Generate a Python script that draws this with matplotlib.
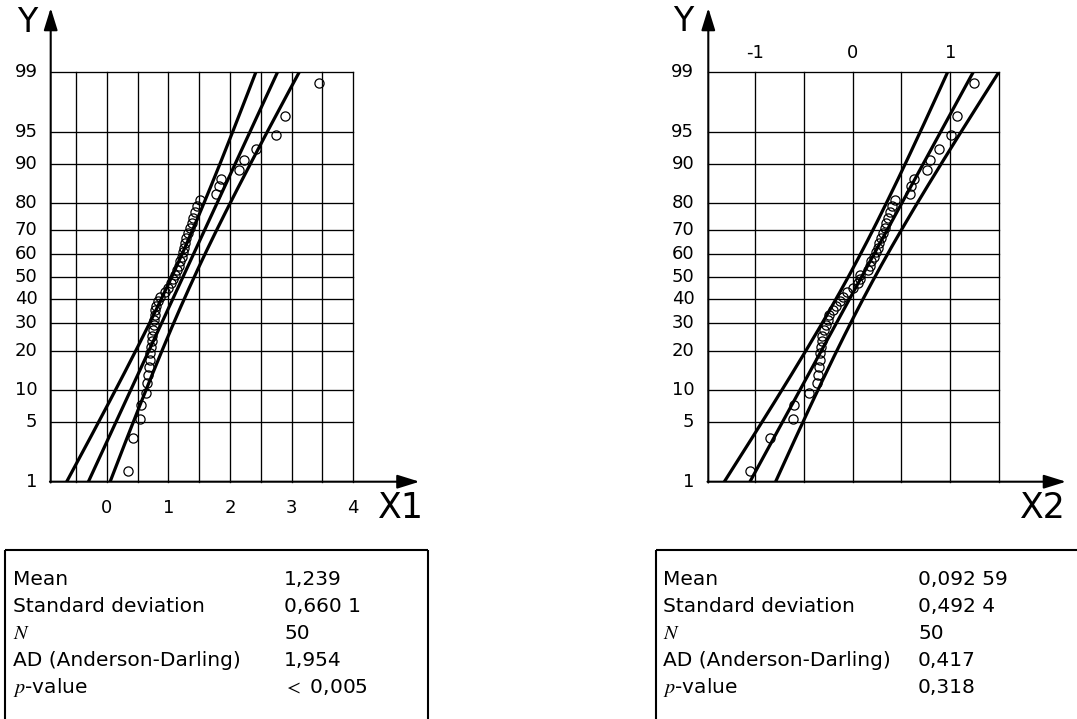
import statistics
import numpy as np
import matplotlib
matplotlib.use("Agg")
import matplotlib.pyplot as plt
from matplotlib.lines import Line2D
from matplotlib.patches import FancyArrowPatch, ArrowStyle

plt.rcParams['font.family'] = ['DejaVu Sans']
plt.rcParams['mathtext.fontset'] = 'stix'

# ---------------- data ----------------
prob_levels = [1, 5, 10, 20, 30, 40, 50, 60, 70, 80, 90, 95, 99]

x1_values = [0.34, 0.42, 0.54, 0.55, 0.63, 0.66, 0.67, 0.69, 0.70, 0.71,
             0.72, 0.73, 0.74, 0.75, 0.76, 0.77, 0.78, 0.79, 0.80, 0.83,
             0.87, 0.95, 0.99, 1.04, 1.08, 1.11, 1.14, 1.17, 1.19, 1.22,
             1.24, 1.25, 1.27, 1.29, 1.32, 1.35, 1.38, 1.40, 1.43, 1.46,
             1.51, 1.78, 1.82, 1.85, 2.15, 2.22, 2.42, 2.75, 2.90, 3.44]
x2_values = [-1.05, -0.85, -0.61, -0.60, -0.45, -0.37, -0.355, -0.35, -0.34, -0.33,
             -0.32, -0.315, -0.31, -0.29, -0.27, -0.25, -0.24, -0.20, -0.17, -0.13,
             -0.10, -0.06, 0.00, 0.05, 0.07, 0.08, 0.16, 0.175, 0.19, 0.215,
             0.24, 0.26, 0.27, 0.29, 0.31, 0.33, 0.345, 0.36, 0.38, 0.40,
             0.43, 0.59, 0.60, 0.63, 0.76, 0.79, 0.89, 1.01, 1.07, 1.24]

x1_ticks = [0, 1, 2, 3, 4]
x2_ticks = [-1, 0, 1]

stat_labels = ["Mean", "Standard deviation", "$N$", "AD (Anderson-Darling)", "$p$-value"]
stats1_text = ["1,239", "0,660 1", "50", "1,954", "$<$ 0,005"]
stats2_text = ["0,092 59", "0,492 4", "50", "0,417", "0,318"]
mean1, sd1, n1 = 1.239, 0.6601, 50
mean2, sd2, n2 = 0.09259, 0.4924, 50

# ---------------- figure ----------------
W, H = 1077, 719
fig = plt.figure(figsize=(W / 100, H / 100), dpi=100)
nd = statistics.NormalDist()
zlev = [nd.inv_cdf(p / 100) for p in prob_levels]
zmin, zmax = zlev[0], zlev[-1]


def fx(x):
    return x / W


def fy(y):
    return 1 - y / H


def fline(xs, ys, lw=1.5):
    fig.add_artist(Line2D([fx(v) for v in xs], [fy(v) for v in ys],
                          transform=fig.transFigure, color='black', lw=lw,
                          solid_capstyle='butt'))


def farrow(p0, p1):
    a = FancyArrowPatch((fx(p0[0]), fy(p0[1])), (fx(p1[0]), fy(p1[1])),
                        transform=fig.transFigure,
                        arrowstyle=ArrowStyle('-|>', head_length=13.5, head_width=4.2),
                        mutation_scale=1, lw=1.5, color='black',
                        shrinkA=0, shrinkB=0)
    fig.add_artist(a)


def prob_plot(rect_px, xlim, vgrid, values, mean, sd, n):
    left, right, top, bottom = rect_px
    ax = fig.add_axes([fx(left), fy(bottom), (right - left) / W, (bottom - top) / H])
    ax.set_xlim(*xlim)
    ax.set_ylim(zmin, zmax)
    for s in ax.spines.values():
        s.set_visible(False)
    ax.set_xticks([])
    ax.set_yticks([])
    ax.patch.set_alpha(0)
    for g in vgrid:
        ax.axvline(g, color='black', lw=0.95, zorder=1, clip_on=False)
    for z in zlev[1:]:
        ax.axhline(z, color='black', lw=0.95, zorder=1, clip_on=False)
    zz = np.linspace(zmin, zmax, 200)
    centre = mean + zz * sd
    half = 1.96 * sd / np.sqrt(n) * np.sqrt(1 + zz ** 2 / 2)
    for line in (centre, centre - half, centre + half):
        ax.plot(line, zz, color='black', lw=2.3, zorder=3, solid_capstyle='butt')
    m = len(values)
    pos = [nd.inv_cdf((i + 1 - 0.3) / (m + 0.4)) for i in range(m)]
    ax.plot(sorted(values), pos, linestyle='none', marker='o', ms=6.6,
            mfc='none', mec='black', mew=0.9, zorder=4, clip_on=False)
    return ax


# left chart
axL = prob_plot((50.7, 353.3, 71.7, 481.7), (-0.908, 4.0),
                [-0.5, 0, 0.5, 1, 1.5, 2, 2.5, 3, 3.5, 4.0],
                x1_values, mean1, sd1, n1)
# right chart
axR = prob_plot((708.3, 999.0, 71.7, 481.7), (-1.48, 1.5),
                [-1, -0.5, 0, 0.5, 1, 1.5],
                x2_values, mean2, sd2, n2)

# axes arrows
farrow((50.7, 482.5), (50.7, 8))
farrow((49.9, 481.7), (419.5, 481.7))
farrow((708.3, 482.5), (708.3, 8))
farrow((707.5, 481.7), (1066, 481.7))

# y tick labels (probability)
for ax, xr in ((axL, -0.044), (axR, -0.048)):
    for p, z in zip(prob_levels, zlev):
        ax.text(xr, z, str(p), transform=ax.get_yaxis_transform(),
                ha='right', va='center', fontsize=13)

# x tick labels
for t in x1_ticks:
    axL.text(t, -0.064, str(t), transform=axL.get_xaxis_transform(),
             ha='center', va='center', fontsize=13)
for t in x2_ticks:
    axR.text(t, 1.0456, str(t), transform=axR.get_xaxis_transform(),
             ha='center', va='center', fontsize=13)

# axis names
fig.text(fx(27), fy(22.5), "Y", ha='center', va='center', fontsize=24)
fig.text(fx(683), fy(21.5), "Y", ha='center', va='center', fontsize=24)
fig.text(fx(401), fy(507.5), "X1", ha='center', va='center', fontsize=25)
fig.text(fx(1043), fy(507.5), "X2", ha='center', va='center', fontsize=25)

# statistic tables
fline([5, 428], [550, 550], lw=1.5)
fline([5, 5], [550, 719], lw=1.5)
fline([428, 428], [550, 719], lw=1.5)
fline([656, 1077], [550, 550], lw=1.5)
fline([656, 656], [550, 719], lw=1.5)

baselines = [585, 612, 639, 666, 693]
for lab, v1, v2, yb in zip(stat_labels, stats1_text, stats2_text, baselines):
    fig.text(fx(13.3), fy(yb), lab, ha='left', va='baseline', fontsize=14.5)
    fig.text(fx(284.3), fy(yb), v1, ha='left', va='baseline', fontsize=14.5)
    fig.text(fx(663.3), fy(yb), lab, ha='left', va='baseline', fontsize=14.5)
    fig.text(fx(918), fy(yb), v2, ha='left', va='baseline', fontsize=14.5)

fig.savefig("out.png", dpi=100)
